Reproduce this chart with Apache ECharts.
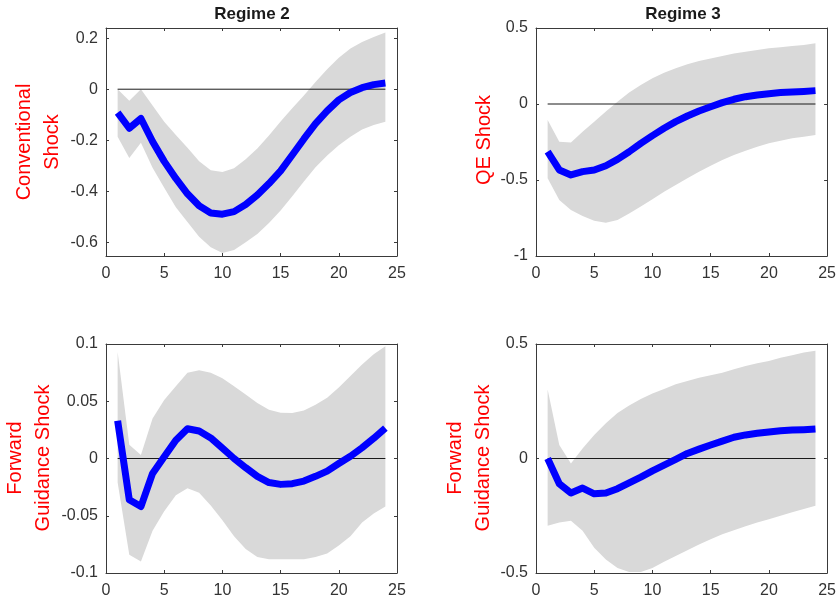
<!DOCTYPE html>
<html>
<head>
<meta charset="utf-8">
<script src="https://cdn.jsdelivr.net/npm/echarts@6/dist/echarts.min.js"></script>
<style>
html,body{margin:0;padding:0;background:#fff;}
#chart{width:839px;height:602px;}
</style>
</head>
<body>
<div id="chart"></div>
<script>
const steps = [1,2,3,4,5,6,7,8,9,10,11,12,13,14,15,16,17,18,19,20,21,22,23,24];
const xTicks = [0,5,10,15,20,25];

// Regime 2 - Conventional shock
const convMean  = [-0.092,-0.153,-0.115,-0.205,-0.283,-0.35,-0.41,-0.457,-0.485,-0.49,-0.48,-0.452,-0.415,-0.37,-0.32,-0.258,-0.195,-0.135,-0.085,-0.042,-0.013,0.006,0.018,0.024];
const convUpper = [0,-0.045,0,-0.064,-0.128,-0.18,-0.23,-0.282,-0.318,-0.325,-0.31,-0.275,-0.232,-0.182,-0.127,-0.075,-0.025,0.028,0.078,0.123,0.16,0.185,0.205,0.222];
const convLower = [-0.186,-0.27,-0.21,-0.308,-0.386,-0.463,-0.521,-0.579,-0.62,-0.642,-0.63,-0.6,-0.568,-0.525,-0.476,-0.42,-0.362,-0.306,-0.26,-0.22,-0.186,-0.158,-0.14,-0.128];
const convTicks = [-0.6,-0.4,-0.2,0,0.2];

// Regime 3 - QE shock
const qeMean  = [-0.314,-0.434,-0.467,-0.445,-0.434,-0.406,-0.364,-0.314,-0.259,-0.208,-0.16,-0.116,-0.079,-0.046,-0.018,0.009,0.031,0.048,0.059,0.068,0.075,0.079,0.083,0.088];
const qeUpper = [-0.105,-0.248,-0.254,-0.182,-0.116,-0.05,0.015,0.075,0.125,0.169,0.206,0.235,0.261,0.283,0.3,0.316,0.333,0.344,0.355,0.366,0.373,0.382,0.388,0.399];
const qeLower = [-0.489,-0.632,-0.697,-0.737,-0.768,-0.781,-0.763,-0.72,-0.675,-0.627,-0.577,-0.533,-0.489,-0.445,-0.406,-0.368,-0.336,-0.307,-0.281,-0.259,-0.241,-0.226,-0.215,-0.204];
const qeTicks = [-1,-0.5,0,0.5];

// Regime 2 - Forward guidance shock
const fg2Mean  = [0.033,-0.036,-0.042,-0.013,0.0015,0.016,0.026,0.024,0.018,0.009,0,-0.008,-0.0156,-0.021,-0.0226,-0.022,-0.0197,-0.0156,-0.011,-0.0044,0.002,0.0094,0.0176,0.0265];
const fg2Upper = [0.093,0.012,0.003,0.035,0.051,0.063,0.075,0.077,0.075,0.07,0.063,0.056,0.0485,0.0426,0.04,0.0397,0.042,0.047,0.053,0.062,0.072,0.082,0.091,0.098];
const fg2Lower = [-0.021,-0.084,-0.09,-0.063,-0.046,-0.032,-0.026,-0.03,-0.041,-0.054,-0.068,-0.079,-0.086,-0.088,-0.088,-0.088,-0.088,-0.086,-0.083,-0.076,-0.068,-0.056,-0.048,-0.042];
const fg2Ticks = [-0.1,-0.05,0,0.05,0.1];

// Regime 3 - Forward guidance shock
const fg3Mean  = [0,-0.11,-0.151,-0.129,-0.154,-0.151,-0.132,-0.106,-0.081,-0.054,-0.029,-0.004,0.022,0.041,0.059,0.076,0.093,0.103,0.11,0.116,0.121,0.124,0.126,0.129];
const fg3Upper = [0.301,0.059,-0.022,0.044,0.103,0.154,0.199,0.231,0.26,0.284,0.304,0.324,0.338,0.353,0.363,0.375,0.39,0.404,0.416,0.426,0.44,0.451,0.463,0.471];
const fg3Lower = [-0.294,-0.279,-0.272,-0.316,-0.39,-0.441,-0.478,-0.496,-0.496,-0.478,-0.451,-0.426,-0.401,-0.375,-0.353,-0.331,-0.313,-0.296,-0.279,-0.265,-0.25,-0.235,-0.221,-0.206];
const fg3Ticks = [-0.5,0,0.5];

const zeroLevel = 0;

const panels = [
  {mean: convMean, upper: convUpper, lower: convLower, ticks: convTicks, min: -0.654, max: 0.24},
  {mean: qeMean, upper: qeUpper, lower: qeLower, ticks: qeTicks, min: -1, max: 0.5},
  {mean: fg2Mean, upper: fg2Upper, lower: fg2Lower, ticks: fg2Ticks, min: -0.1, max: 0.1},
  {mean: fg3Mean, upper: fg3Upper, lower: fg3Lower, ticks: fg3Ticks, min: -0.5, max: 0.5}
];

const gridBoxes = [
  {left: 106, top: 28, width: 291, height: 228},
  {left: 536, top: 28, width: 292, height: 228},
  {left: 106, top: 344, width: 291, height: 229},
  {left: 536, top: 344, width: 292, height: 229}
];

const axisColor = '#3a3a3a';
const labelColor = '#333333';
const FONT = '"Liberation Sans", Arial, Helvetica, sans-serif';

const grids = [], xAxes = [], yAxes = [], series = [];
panels.forEach((p, i) => {
  grids.push(Object.assign({containLabel: false}, gridBoxes[i]));
  xAxes.push({
    type: 'value', gridIndex: i, min: 0, max: 25, position: 'bottom',
    axisLine: {show: true, onZero: false, lineStyle: {color: axisColor, width: 1}},
    axisTick: {show: true, inside: true, length: 3, customValues: xTicks, lineStyle: {color: axisColor}},
    axisLabel: {show: true, customValues: xTicks, color: labelColor, fontSize: 16, fontFamily: FONT, margin: 10},
    splitLine: {show: false}
  });
  xAxes.push({
    type: 'value', gridIndex: i, min: 0, max: 25, position: 'top',
    axisLine: {show: true, onZero: false, lineStyle: {color: axisColor, width: 1}},
    axisTick: {show: true, inside: true, length: 3, customValues: xTicks, lineStyle: {color: axisColor}},
    axisLabel: {show: false},
    splitLine: {show: false}
  });
  yAxes.push({
    type: 'value', gridIndex: i, min: p.min, max: p.max, position: 'left',
    axisLine: {show: true, onZero: false, lineStyle: {color: axisColor, width: 1}},
    axisTick: {show: true, inside: true, length: 3, customValues: p.ticks, lineStyle: {color: axisColor}},
    axisLabel: {show: true, customValues: p.ticks, color: labelColor, fontSize: 16, fontFamily: FONT, margin: 8,
      formatter: v => String(+(+v).toFixed(4))},
    splitLine: {show: false}
  });
  yAxes.push({
    type: 'value', gridIndex: i, min: p.min, max: p.max, position: 'right',
    axisLine: {show: true, onZero: false, lineStyle: {color: axisColor, width: 1}},
    axisTick: {show: true, inside: true, length: 3, customValues: p.ticks, lineStyle: {color: axisColor}},
    axisLabel: {show: false},
    splitLine: {show: false}
  });
  const xi = i * 2, yi = i * 2;
  const bandData = steps.map((s, k) => [s, p.lower[k], p.upper[k]]);
  series.push({
    type: 'custom', xAxisIndex: xi, yAxisIndex: yi, data: bandData, silent: true, z: 1,
    clip: true,
    encode: {x: 0, y: [1, 2]},
    renderItem: (params, api) => {
      if (params.dataIndex !== 0) return null;
      const pts = [];
      for (let k = 0; k < bandData.length; k++) pts.push(api.coord([bandData[k][0], bandData[k][2]]));
      for (let k = bandData.length - 1; k >= 0; k--) pts.push(api.coord([bandData[k][0], bandData[k][1]]));
      return {type: 'polygon', shape: {points: pts}, style: {fill: '#d9d9d9', stroke: null}};
    }
  });
  series.push({
    type: 'line', xAxisIndex: xi, yAxisIndex: yi,
    data: [[steps[0], zeroLevel], [steps[steps.length - 1], zeroLevel]],
    symbol: 'none', silent: true, lineStyle: {color: '#1a1a1a', width: 1}, z: 2
  });
  series.push({
    type: 'line', xAxisIndex: xi, yAxisIndex: yi,
    data: steps.map((s, k) => [s, p.mean[k]]),
    symbol: 'none', silent: true, lineStyle: {color: '#0000ff', width: 7, join: 'round', cap: 'butt'}, z: 3
  });
});

function txt(x, y, text, font, fill, rot) {
  return {
    type: 'text', x: x, y: y, rotation: rot || 0, silent: true,
    style: {text: text, font: font, fill: fill, textAlign: 'center', textVerticalAlign: 'middle'}
  };
}
const titleFont = 'bold 17px ' + FONT;
const ylabFont = '20px ' + FONT;
const R = Math.PI / 2;
const graphics = [
  txt(252, 14, 'Regime 2', titleFont, '#1a1a1a'),
  txt(683, 14, 'Regime 3', titleFont, '#1a1a1a'),
  txt(24, 142, 'Conventional', ylabFont, '#ff0000', R),
  txt(52, 142, 'Shock', ylabFont, '#ff0000', R),
  txt(484, 140, 'QE Shock', ylabFont, '#ff0000', R),
  txt(15, 458, 'Forward', ylabFont, '#ff0000', R),
  txt(43, 458, 'Guidance Shock', ylabFont, '#ff0000', R),
  txt(455, 458, 'Forward', ylabFont, '#ff0000', R),
  txt(483, 458, 'Guidance Shock', ylabFont, '#ff0000', R)
];

const chart = echarts.init(document.getElementById('chart'), null, {renderer: 'canvas'});
chart.setOption({
  animation: false,
  backgroundColor: '#ffffff',
  grid: grids,
  xAxis: xAxes,
  yAxis: yAxes,
  series: series,
  graphic: graphics
});
</script>
</body>
</html>
